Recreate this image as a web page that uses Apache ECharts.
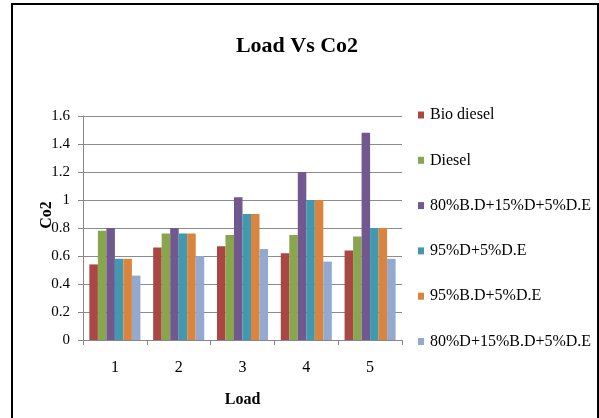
<!DOCTYPE html>
<html>
<head>
<meta charset="utf-8">
<script src="https://cdn.jsdelivr.net/npm/echarts@6/dist/echarts.min.js"></script>
<style>html,body{margin:0;padding:0;background:#fff}#c{width:599px;height:418px}</style>
</head>
<body>
<div id="c"></div>
<script>
const categories = ['1', '2', '3', '4', '5'];
const seriesNames = ['Bio diesel', 'Diesel', '80%B.D+15%D+5%D.E', '95%D+5%D.E', '95%B.D+5%D.E', '80%D+15%B.D+5%D.E'];
const bioDiesel = [0.54, 0.66, 0.67, 0.62, 0.64];
const diesel = [0.78, 0.76, 0.75, 0.75, 0.74];
const bd80 = [0.80, 0.80, 1.02, 1.20, 1.48];
const d95 = [0.58, 0.76, 0.90, 1.00, 0.80];
const bd95 = [0.58, 0.76, 0.90, 1.00, 0.80];
const d80 = [0.46, 0.60, 0.65, 0.56, 0.58];
const yTicks = ['0', '0.2', '0.4', '0.6', '0.8', '1', '1.2', '1.4', '1.6'];

const values = [bioDiesel, diesel, bd80, d95, bd95, d80];
const colors = ['#AA4643', '#89A54E', '#71588F', '#4198AF', '#DB843D', '#93A9CF'];
const font = '"Liberation Serif", "Times New Roman", serif';

const chart = echarts.init(document.getElementById('c'), null, {renderer: 'canvas'});
chart.setOption({
  animation: false,
  color: colors,
  textStyle: {fontFamily: font},
  title: {
    text: 'Load Vs Co2',
    left: 292, top: 30, textAlign: 'center',
    textStyle: {fontFamily: font, fontWeight: 'bold', fontSize: 22, color: '#000'}
  },
  graphic: [{
    type: 'rect', shape: {x: 12, y: 4, width: 586, height: 430},
    style: {fill: 'none', stroke: '#000', lineWidth: 2}, silent: true
  }],
  grid: {left: 83, right: 197, top: 116, bottom: 78, containLabel: false},
  legend: {
    orient: 'vertical', left: 418, top: 107, padding: 0,
    itemWidth: 6, itemHeight: 7, itemGap: 29.3, icon: 'rect',
    textStyle: {fontFamily: font, fontSize: 16, color: '#000', lineHeight: 16, padding: [0, 0, 0, 1]},
    data: seriesNames
  },
  xAxis: {
    type: 'category', data: categories,
    name: 'Load', nameLocation: 'middle', nameGap: 52, nameMoveOverlap: false,
    nameTextStyle: {fontFamily: font, fontWeight: 'bold', fontSize: 16, color: '#000'},
    axisLine: {lineStyle: {color: '#888', width: 1}},
    axisTick: {show: true, length: 5, lineStyle: {color: '#888'}},
    axisLabel: {fontFamily: font, fontSize: 16, color: '#000', margin: 20}
  },
  yAxis: {
    type: 'value', min: 0, max: 1.6, interval: 0.2,
    name: 'Co2', nameLocation: 'middle', nameGap: 28, nameRotate: 90, nameMoveOverlap: false,
    nameTextStyle: {fontFamily: font, fontWeight: 'bold', fontSize: 16, color: '#000', padding: [0, 0, 0, 26]},
    axisLine: {show: true, lineStyle: {color: '#888', width: 1}},
    axisTick: {show: true, length: 5, lineStyle: {color: '#888'}},
    axisLabel: {
      fontFamily: font, fontSize: 15, color: '#000', margin: 13,
      formatter: function (v) { return yTicks[Math.round(v / 0.2)]; }
    },
    splitLine: {lineStyle: {color: '#8c8c8c', width: 1}}
  },
  series: seriesNames.map(function (n, i) {
    return {
      name: n, type: 'bar', data: values[i],
      barGap: '0%', barCategoryGap: '20%'
    };
  })
});
</script>
</body>
</html>
